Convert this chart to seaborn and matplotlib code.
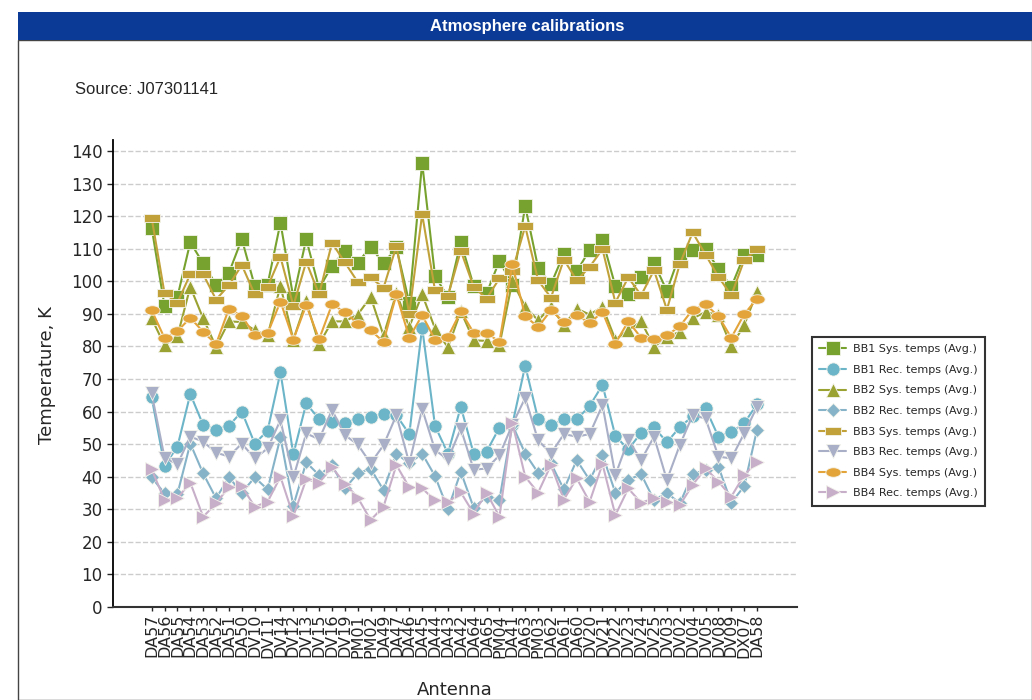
import numpy as np
import pandas as pd
import matplotlib
matplotlib.use("Agg")
import matplotlib.pyplot as plt
from matplotlib.patches import Rectangle
import seaborn as sns

# --- data ---
antennas = ["DA57", "DA56", "DA55", "DA54", "DA53", "DA52", "DA51", "DA50",
            "DV10", "DV11", "DV14", "DV12", "DV13", "DV15", "DV16", "DV19",
            "PM01", "PM02", "DA49", "DA47", "DA46", "DA45", "DA44", "DA43",
            "DA42", "DA64", "DA65", "PM04", "DA41", "DA63", "PM03", "DA62",
            "DA61", "DA60", "DV20", "DV21", "DV22", "DV23", "DV24", "DV25",
            "DV03", "DV02", "DV04", "DV05", "DV08", "DV09", "DX07", "DA58"]

bb1_sys = [116.5, 92.4, 95.2, 112, 105.5, 99, 102.6, 113, 98.6, 99, 118, 95, 113, 97.8, 104.8,
           109.3, 105.7, 110.6, 105.5, 110.4, 93.4, 136.4, 101.6, 95.2, 112.1, 98.6, 96.3, 106.3,
           98.8, 123.1, 104.2, 99.1, 108.5, 103.1, 109.6, 112.8, 98.5, 96, 101.2, 105.5, 97.1,
           108.3, 109.6, 109.8, 103.9, 98.3, 108, 108]
bb1_rec = [64.4, 43.4, 49.2, 65.4, 55.9, 54.5, 55.7, 60, 50.2, 54.1, 72.1, 46.9, 62.5, 57.7, 56.9,
           56.6, 57.8, 58.2, 59.4, 58.9, 53.1, 85.8, 55.6, 47.1, 61.5, 47.1, 47.7, 55.1, 56, 74.1,
           57.7, 55.8, 57.6, 57.6, 61.7, 68.2, 52.5, 48.4, 53.5, 55.2, 50.6, 55.2, 58.6, 61, 52.3,
           53.8, 56.4, 62.3]
bb2_sys = [88.6, 80.4, 83.1, 98.3, 88.6, 79.9, 87.7, 87.5, 85, 83.4, 98.6, 82.1, 93.9, 80.7, 87.7,
           87.7, 89.8, 95.2, 83.4, 96.3, 86, 96, 85.5, 79.7, 90.8, 81.9, 81.7, 80.4, 100, 92.2, 88,
           92.2, 86.5, 91.6, 89.8, 92.2, 82.1, 85, 87.7, 79.9, 82.9, 84.5, 88.6, 90.6, 89.6, 80.1,
           86.5, 96.8]
bb2_rec = [39.8, 34.9, 34.7, 50.2, 41, 33.4, 39.8, 35.1, 39.8, 36.1, 52.1, 31.1, 44.4, 40.5, 43.5,
           36.4, 41, 42.5, 35.9, 47.1, 44.1, 47.1, 40.2, 30, 41.5, 30.5, 33.8, 33, 56, 47.1, 41.2,
           44.1, 36.1, 45.1, 39, 46.7, 35.1, 39, 40.8, 32.8, 35.1, 31.8, 40.8, 42.1, 43.1, 32,
           37.1, 54.5]
bb3_sys = [119.5, 96.3, 93.4, 102.2, 102.2, 94.4, 98.8, 105, 96, 98.3, 107.5, 92.5, 106, 96, 111.8,
           105.8, 99.8, 101.2, 98, 110.8, 90.1, 120.6, 97.2, 95.5, 109.4, 98.3, 94.7, 100.9, 103.2,
           116.9, 100.3, 95, 106.7, 100.3, 104.4, 109.9, 93.5, 101.2, 95.7, 103.4, 91.3, 105.3,
           115, 108.2, 101.4, 95.7, 106.5, 109.8]
bb3_rec = [65.6, 45.9, 43.8, 52.3, 50.8, 47.4, 46.2, 50.2, 45.6, 48.7, 57.4, 39.8, 53.3, 51.5, 60.5,
           52.8, 49.9, 44.1, 49.7, 58.9, 44.1, 60.8, 48.2, 45.3, 54.8, 42.2, 42.5, 46.6, 56, 64.2,
           51.2, 47.1, 53.1, 52.3, 53.1, 62, 40.5, 51.3, 45.1, 52.3, 39, 49.7, 58.9, 57.9, 46.2,
           45.6, 53.3, 61.5]
bb4_sys = [91.1, 82.6, 84.7, 88.8, 84.5, 80.7, 91.6, 89.4, 83.4, 84, 93.8, 82.1, 92.7, 82.2, 92.9,
           90.6, 87, 85, 81.4, 96, 82.7, 89.6, 82.1, 82.9, 90.8, 84.2, 84.2, 81.4, 105.2, 89.3, 86,
           91.1, 87.5, 89.6, 87.2, 90.6, 80.9, 87.7, 82.7, 82.2, 83.4, 86.2, 91.3, 92.9, 89.3, 82.7,
           89.9, 94.7]
bb4_rec = [42.3, 32.8, 33.4, 38.2, 27.7, 31.8, 36.9, 37.1, 30.8, 32.3, 40, 27.9, 39.2, 38.2, 42.9,
           37.9, 33.6, 26.7, 30.8, 43.6, 36.7, 36.4, 32.8, 32.1, 35.2, 28.7, 35.1, 27.7, 56.6, 40,
           35.1, 43.6, 33, 39.5, 32.3, 43.9, 28.2, 36.4, 32, 33.4, 32.3, 31.3, 37.5, 42.6, 38.5,
           33.9, 40.5, 44.6]

# flat rectangle and ellipse markers (BB3 / BB4 system temps)
flat_rect = [(-1, -0.55), (1, -0.55), (1, 0.55), (-1, 0.55), (-1, -0.55)]
t = np.linspace(0, 2 * np.pi, 40)
ellipse = list(zip(np.cos(t), 0.62 * np.sin(t)))

series = [
    ("BB1 Sys. temps (Avg.)", bb1_sys, "#78a22f", "s", 10),
    ("BB1 Rec. temps (Avg.)", bb1_rec, "#6cb4c8", "o", 9.5),
    ("BB2 Sys. temps (Avg.)", bb2_sys, "#9aa232", "^", 10),
    ("BB2 Rec. temps (Avg.)", bb2_rec, "#86b3c8", "D", 7),
    ("BB3 Sys. temps (Avg.)", bb3_sys, "#c1a23a", flat_rect, 11),
    ("BB3 Rec. temps (Avg.)", bb3_rec, "#a9afc6", "v", 10),
    ("BB4 Sys. temps (Avg.)", bb4_sys, "#e3a43a", ellipse, 11),
    ("BB4 Rec. temps (Avg.)", bb4_rec, "#c8afc9", ">", 10),
]

sns.set_style("white")
plt.rcParams["font.family"] = ["DejaVu Sans"]

fig = plt.figure(figsize=(10.32, 7.0), dpi=100)

# panel frame + blue title bar
fig.patches.append(Rectangle((18 / 1032, 0.0), 1 - 18 / 1032, 1 - 40 / 700,
                             transform=fig.transFigure, fill=False,
                             edgecolor="#444444", linewidth=1.0))
fig.patches.append(Rectangle((18 / 1032, 1 - 40 / 700), 1 - 18 / 1032, 28 / 700,
                             transform=fig.transFigure, facecolor="#0b3a96",
                             edgecolor="none"))
fig.text(0.511, 1 - 26 / 700, "Atmosphere calibrations", color="white",
         fontsize=12, fontweight="bold", family="Liberation Sans",
         ha="center", va="center")
fig.text(75 / 1032, 1 - 90 / 700, "Source: J07301141", fontsize=12,
         family="Liberation Sans", ha="left", va="center")

ax = fig.add_axes([113 / 1032, 93 / 700, 684 / 1032, 467 / 700])
x = np.arange(len(antennas))

for label, vals, color, marker, ms in series:
    sns.lineplot(x=x, y=vals, ax=ax, color=color, marker=marker, markersize=ms,
                 markeredgecolor="#f4f4ec", markeredgewidth=0.6, linewidth=1.5,
                 label=label, legend=False)

ax.set_xlim(-3, 50.1)
ax.set_ylim(0, 143.4)
ax.set_yticks(np.arange(0, 141, 10))
ax.set_xticks(x)
ax.set_xticklabels(antennas, rotation=90)
ax.tick_params(axis="y", labelsize=12, length=4, width=1, left=True)
ax.tick_params(axis="x", labelsize=11.5, length=3, width=1, bottom=True, pad=2)
ax.yaxis.grid(True, linestyle="--", color="#cccccc", linewidth=1)
ax.set_axisbelow(True)
for side in ["top", "right"]:
    ax.spines[side].set_visible(False)
ax.spines["left"].set_color("black")
ax.spines["left"].set_linewidth(1.3)
ax.spines["bottom"].set_color("#333333")
ax.spines["bottom"].set_linewidth(1.5)
ax.set_xlabel("")
ax.set_ylabel("")

fig.text(455 / 1032, 1 - 690 / 700, "Antenna", fontsize=13, ha="center", va="center")
fig.text(47 / 1032, 1 - 375 / 700, "Temperature, K", fontsize=13, rotation=90,
         ha="center", va="center")

handles, labels = ax.get_legend_handles_labels()
leg = fig.legend(handles, labels, loc="upper left",
                 bbox_to_anchor=(806 / 1032, 1 - 331 / 700), fontsize=8,
                 frameon=True, fancybox=False, edgecolor="black",
                 handlelength=2.4, labelspacing=0.95, borderpad=0.7,
                 handletextpad=0.6)
leg.get_frame().set_linewidth(1.5)

fig.savefig("out.png", dpi=100)
